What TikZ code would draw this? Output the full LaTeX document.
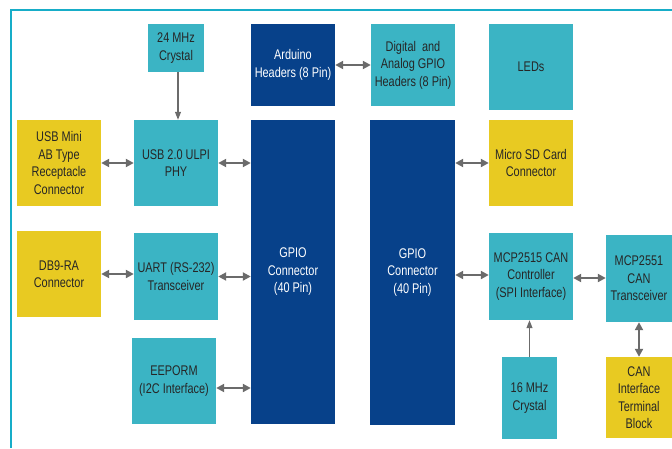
\documentclass[tikz,border=0pt]{standalone}
\usepackage{fontspec}
\setmainfont{Liberation Sans}[FakeStretch=0.78]
\usetikzlibrary{arrows.meta,calc}
\definecolor{boxteal}{HTML}{3BB4C4}
\definecolor{boxnavy}{HTML}{07418A}
\definecolor{boxyellow}{HTML}{E8CA22}
\definecolor{arrowgray}{HTML}{6B6B6B}
\definecolor{frameteal}{HTML}{17ADC8}

\begin{document}
\begin{tikzpicture}[x=1pt,y=-1pt,
    blk/.style={minimum width=84pt,minimum height=86pt,inner sep=1pt,align=center,
      font=\fontsize{14}{17.5}\selectfont},
    cyanblk/.style={blk,fill=boxteal,text=black!85},
    navyblk/.style={blk,fill=boxnavy,text=white},
    yelblk/.style={blk,fill=boxyellow,text=black!85},
    link/.style={draw=arrowgray,line width=2pt,
      {Triangle[length=8pt,width=8pt]}-{Triangle[length=8pt,width=8pt]}},
    feed/.style={draw=arrowgray,line width=1.2pt,-{Triangle[length=8pt,width=6pt]}}]
            \useasboundingbox (0,0) rectangle (672,448);
            \draw[frameteal,line width=2pt] (11,448) -- (11,10) -- (672,10);

            \node[cyanblk,minimum width=56pt,minimum height=48pt] (xtal24) at (176,48) {24 MHz\\Crystal};
            \node[navyblk,minimum height=82pt] (ard) at (293,65) {Arduino\\Headers (8 Pin)};
            \node[cyanblk,minimum height=82pt] (dig) at (413,65) {Digital~ and\\Analog GPIO\\Headers (8 Pin)};
            \node[cyanblk] (leds) at (531,67) {LEDs};

            \node[yelblk] (usbmini) at (59,163) {USB Mini\\AB Type\\Receptacle\\Connector};
            \node[cyanblk] (phy) at (176,163) {USB 2.0 ULPI\\PHY};
            \node[navyblk,minimum height=304pt] (gpioL) at (293,272) {GPIO\\Connector\\(40 Pin)};
            \node[navyblk,minimum width=85pt,minimum height=305pt] (gpioR) at (412.5,272.5) {GPIO\\Connector\\(40 Pin)};
            \node[yelblk] (sd) at (531,163) {Micro SD Card\\Connector};

            \node[yelblk] (db9) at (59,274) {DB9-RA\\Connector};
            \node[cyanblk,minimum height=87pt] (uart) at (176,276.5) {UART (RS-232)\\Transceiver};
            \node[cyanblk] (eep) at (174,381) {EEPORM\\(I2C Interface)};

            \node[cyanblk,minimum height=87pt] (can15) at (531,276.5) {MCP2515 CAN\\Controller\\(SPI Interface)};
            \node[cyanblk,minimum width=66pt,minimum height=87pt] (can51) at (639,278.5) {MCP2551\\CAN\\Transceiver};
            \node[cyanblk,minimum width=55pt,minimum height=82pt] (xtal16) at (529.5,398) {16 MHz\\Crystal};
            \node[yelblk,minimum width=66pt,minimum height=81pt] (canterm) at (639,397.5) {CAN\\Interface\\Terminal\\Block};

            \draw[feed] ([xshift=2pt]xtal24.south) -- ([xshift=2pt]phy.north);
            \draw[feed] (xtal16.north) -- (xtal16.north |- can15.south);
            \draw[link] (ard.east) -- (dig.west);
            \draw[link] (usbmini.east) -- (phy.west);
            \draw[link] (phy.east) -- (phy.east -| gpioL.west);
            \draw[link] (sd.west -| gpioR.east) -- (sd.west);
            \draw[link] (db9.east) -- (db9.east -| uart.west);
            \draw[link] (uart.east) -- (uart.east -| gpioL.west);
            \draw[link] ([yshift=-7pt]eep.east) -- ([yshift=-7pt]eep.east -| gpioL.west);
            \draw[link] ([yshift=1.5pt]can15.west -| gpioR.east) -- ([yshift=1.5pt]can15.west);
            \draw[link] ([yshift=-1.5pt]can15.east) -- ([yshift=-1.5pt]can15.east -| can51.west);
            \draw[link] (can51.south) -- (can51.south |- canterm.north);
        \end{tikzpicture}
\end{document}
